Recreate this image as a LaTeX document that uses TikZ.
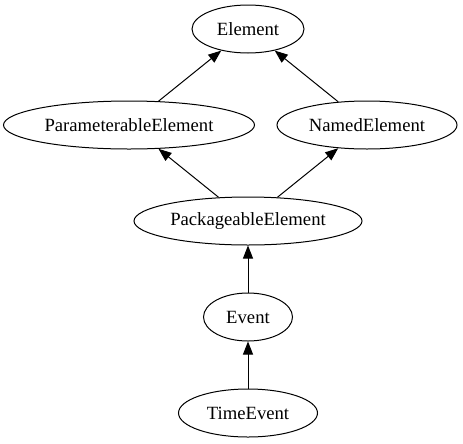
\documentclass[tikz,border=0pt]{standalone}
\usepackage{fontspec}
\setmainfont{Liberation Serif}
\usetikzlibrary{shapes.geometric,arrows.meta}
\tikzset{
  cls/.style={draw=black, ellipse, inner sep=0pt, line width=0.75pt,
    minimum height=36pt, font=\fontsize{14}{16}\selectfont},
  gen/.style={draw=black, line width=0.75pt,
    -{Triangle[length=9.75pt,width=7.5pt]}}
}
\begin{document}
\begin{tikzpicture}[x=0.75pt,y=-0.75pt]
\useasboundingbox (0,0) rectangle (463,443);
\node[cls, minimum width=84pt]     (el)  at (248,29)  {Element};
\node[cls, minimum width=188.25pt] (par) at (129,125) {ParameterableElement};
\node[cls, minimum width=135pt]    (nam) at (367,125) {NamedElement};
\node[cls, minimum width=171pt]    (pkg) at (248,221) {PackageableElement};
\node[cls, minimum width=66.75pt]  (ev)  at (248,317) {Event};
\node[cls, minimum width=104.25pt] (tev) at (248,413) {TimeEvent};
\draw[gen] (par) -- (el);
\draw[gen] (nam) -- (el);
\draw[gen] (pkg) -- (par);
\draw[gen] (pkg) -- (nam);
\draw[gen] (ev) -- (pkg);
\draw[gen] (tev) -- (ev);
\end{tikzpicture}
\end{document}
